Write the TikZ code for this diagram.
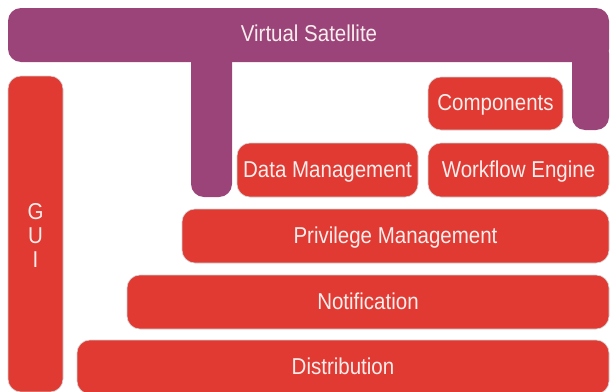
\documentclass[tikz,border=0pt]{standalone}
\usepackage{fontspec}
\setmainfont{Liberation Sans}
\definecolor{vsPurple}{HTML}{9B447A}
\definecolor{vsRed}{HTML}{E03A33}
\definecolor{vsText}{HTML}{FBEDEC}
\newcommand{\tallt}[1]{\scalebox{1}[1.12]{#1}}
\begin{document}
\begin{tikzpicture}[x=1pt,y=-1pt,
  txt/.style={text=vsText, font=\fontsize{20.5}{22}\selectfont, inner sep=0pt,
    text height=16.8pt, text depth=2.2pt},
  redbox/.style={txt, fill=vsRed, draw=black!18, line width=0.6pt, rounded corners=13pt},
  purplefill/.style={fill=vsPurple, rounded corners=13pt}]
\useasboundingbox (0,0) rectangle (610,391);
% Virtual Satellite shape
\fill[purplefill] (8,8) rectangle (609,62);
\fill[purplefill] (191,40) rectangle (232,197);
\fill[purplefill] (572,40) rectangle (609,130);
\node[txt] (vs) at (309,34.5) {\tallt{Virtual Satellite}};
% boxes
\node[redbox, minimum width=55pt, minimum height=316pt] (gui) at (35.5,234) {};
\node[text=vsText, inner sep=0pt, align=center,
  font=\fontsize{20.5}{23.7}\selectfont] (guit) at (35.5,235.5) {\tallt{G}\\\tallt{U}\\\tallt{I}};
\node[redbox, minimum width=135pt, minimum height=53pt] (comp) at (495.5,103.5) {\tallt{Components}};
\node[redbox, minimum width=181pt, minimum height=54pt] (dm) at (327.5,170) {\tallt{Data Management}};
\node[redbox, minimum width=181pt, minimum height=54pt] (wf) at (518.5,170) {\tallt{Workflow Engine}};
\node[redbox, minimum width=427pt, minimum height=54pt] (pm) at (395.5,236) {\tallt{Privilege Management}};
\node[redbox, minimum width=482pt, minimum height=54pt] (nt) at (368,302) {\tallt{Notification}};
\node[redbox, minimum width=532pt, minimum height=54pt] (ds) at (343,367) {\tallt{Distribution}};
\end{tikzpicture}
\end{document}
